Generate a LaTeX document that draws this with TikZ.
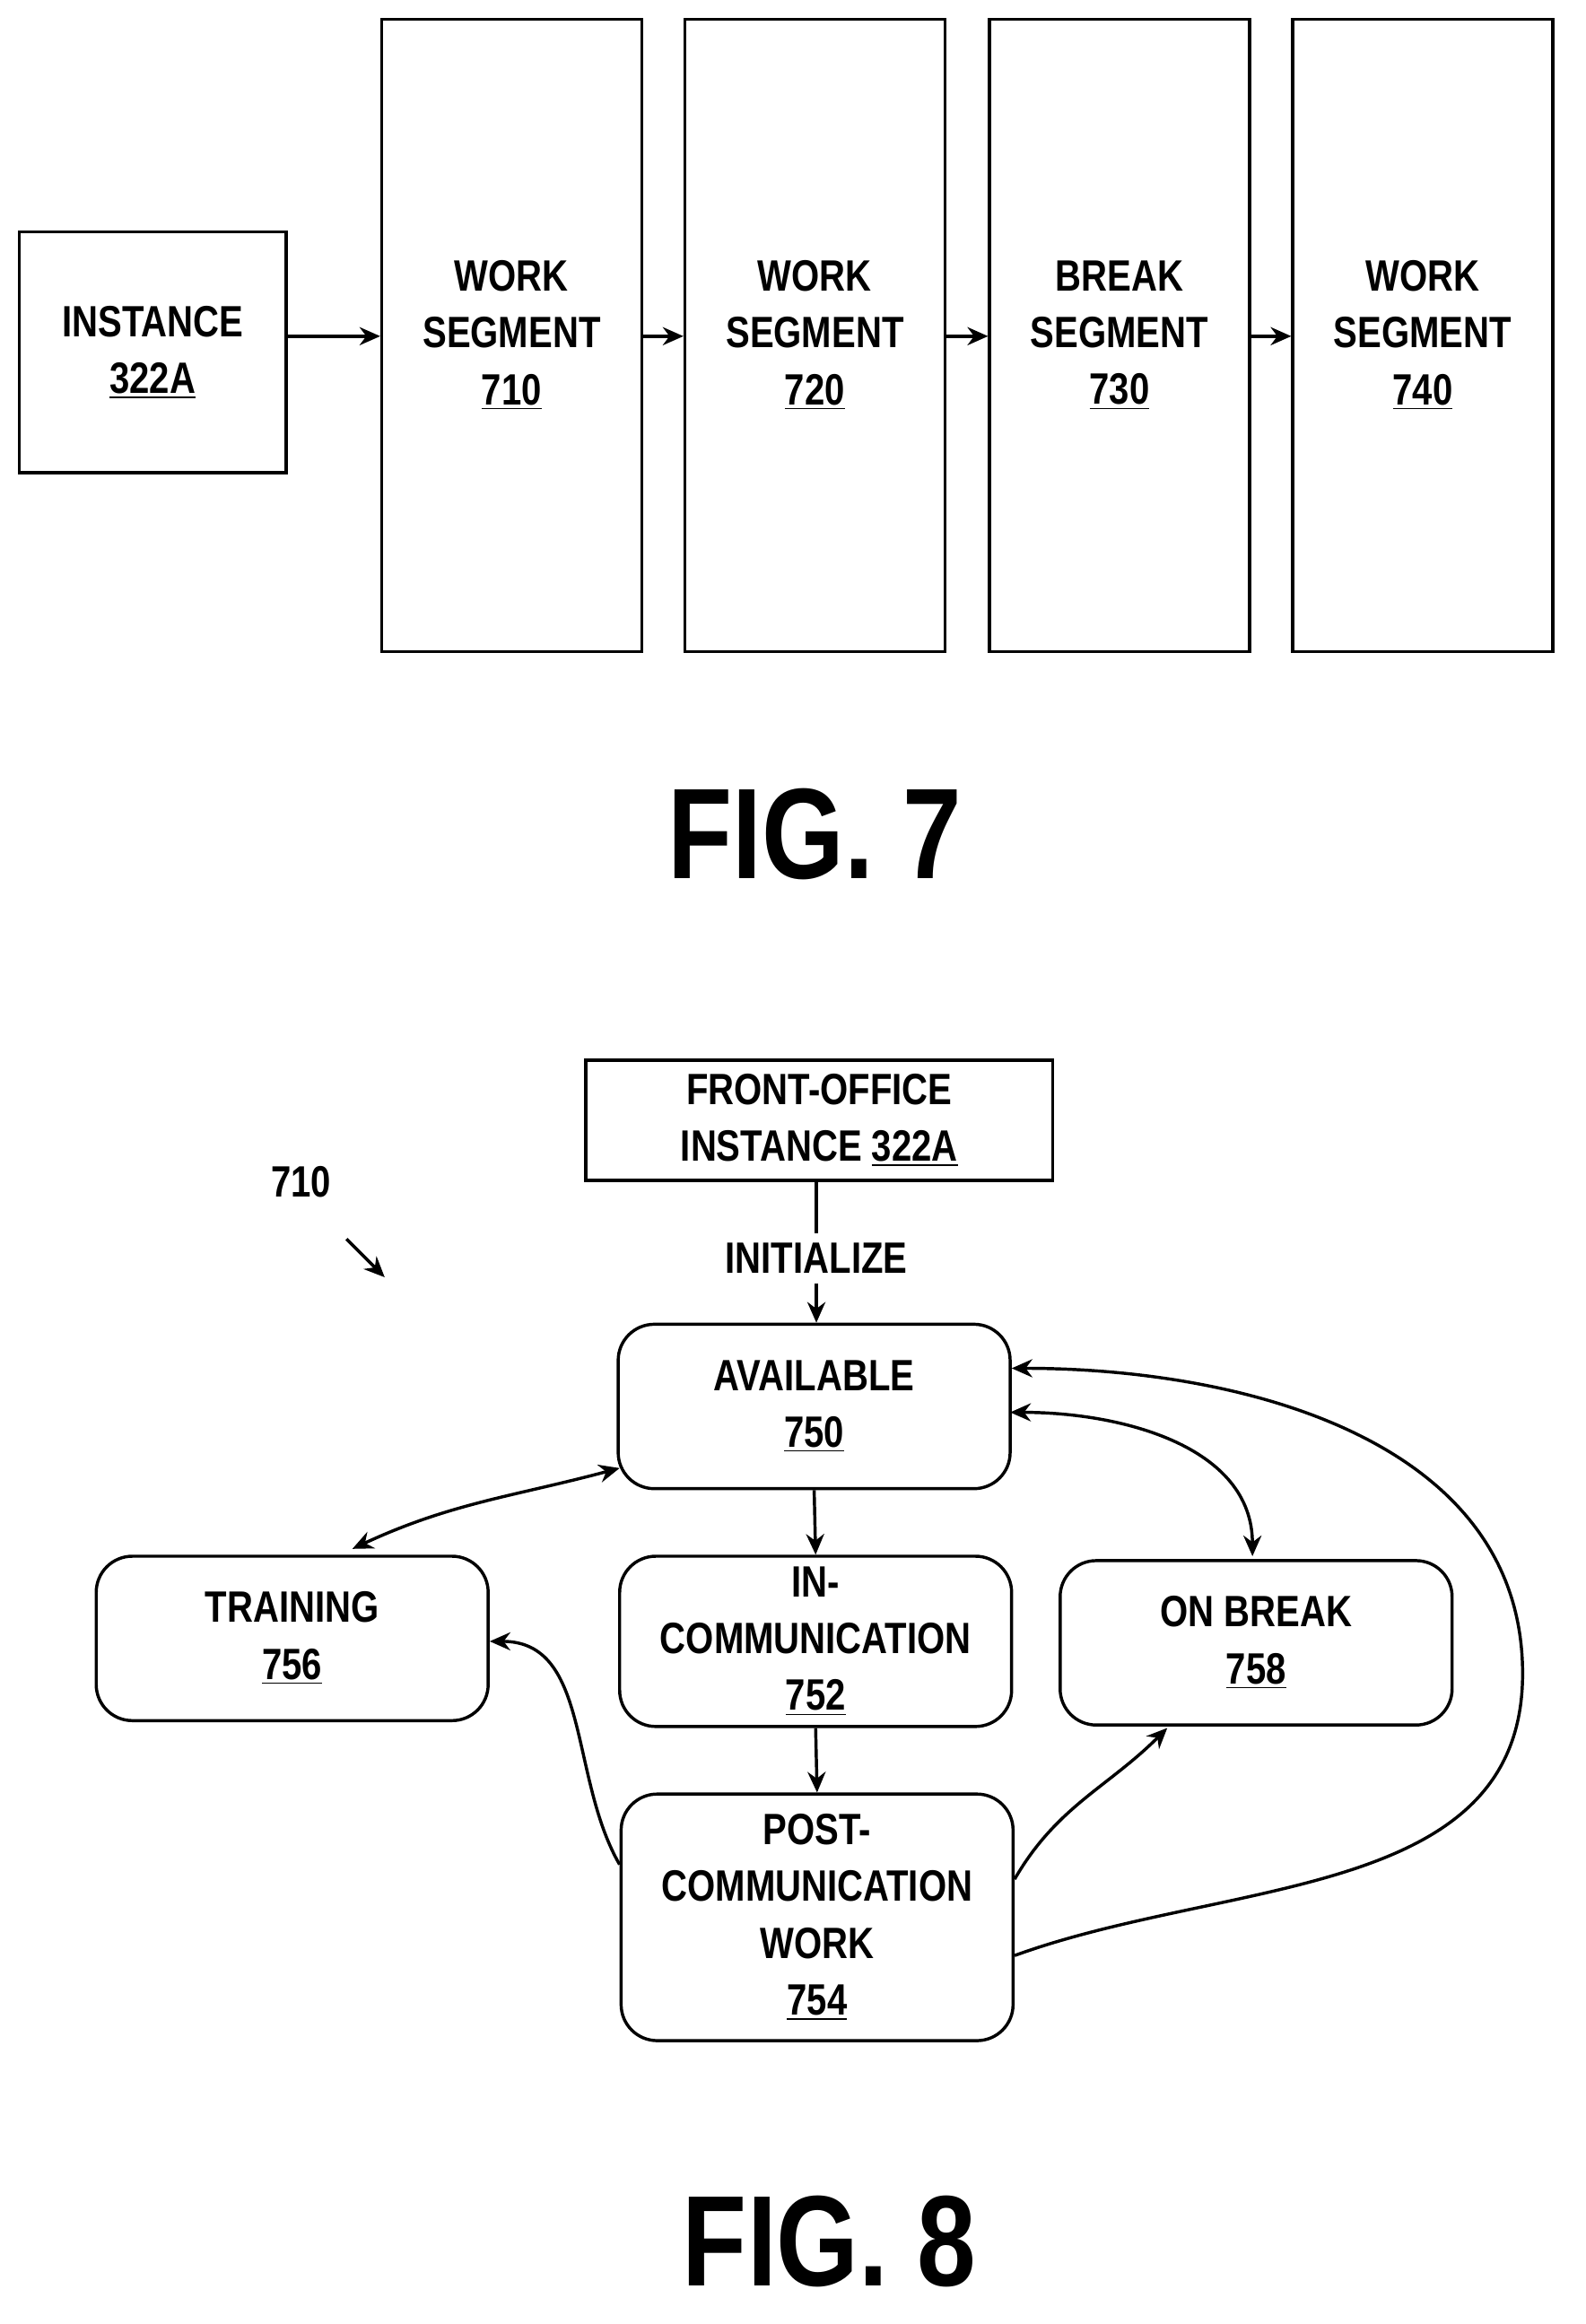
\documentclass[tikz,border=0pt]{standalone}
\usepackage{fontspec}
\setmainfont{Liberation Sans}[FakeStretch=0.82]
\usetikzlibrary{arrows.meta}
\begin{document}
\begin{tikzpicture}[x=0.02cm,y=-0.02cm,
        box/.style={rectangle, draw, line width=1.2pt, align=center, font=\bfseries\fontsize{17}{22}\selectfont},
        state/.style={box, rounded corners=14pt, minimum width=5.34cm, minimum height=2.24cm},
        seg/.style={box, minimum width=3.54cm, minimum height=8.62cm},
        arrow/.style={-{Stealth[length=8pt,width=7pt]}, line width=1.2pt},
        dblarrow/.style={{Stealth[length=8pt,width=7pt]}-{Stealth[length=8pt,width=7pt]}, line width=1.2pt},
        figlabel/.style={font=\bfseries\fontsize{50}{60}\selectfont}
    ]
        \useasboundingbox (0,0) rectangle (1080,1583);
        % FIG. 7
        \node[box, minimum width=3.64cm, minimum height=3.28cm] (inst) at (104,240) {INSTANCE\\\underline{322A}};
        \node[seg] (ws710) at (348.5,228.5) {WORK\\SEGMENT\\\underline{710}};
        \node[seg] (ws720) at (555,228.5) {WORK\\SEGMENT\\\underline{720}};
        \node[seg] (bs730) at (762.5,228.5) {BREAK\\SEGMENT\\\underline{730}};
        \node[seg] (ws740) at (969,228.5) {WORK\\SEGMENT\\\underline{740}};
        \node[figlabel] (fig7) at (555,568) {FIG. 7};

        \draw[arrow] (inst.east |- 0,229) -- (ws710.west |- 0,229);
        \draw[arrow] (ws710.east |- 0,229) -- (ws720.west |- 0,229);
        \draw[arrow] (ws720.east |- 0,229) -- (bs730.west |- 0,229);
        \draw[arrow] (bs730.east |- 0,229) -- (ws740.west |- 0,229);

        % FIG. 8
        \node[box, minimum width=6.36cm, minimum height=1.64cm] (front) at (558,763) {FRONT-OFFICE\\INSTANCE \underline{322A}};
        \node[box, draw=none] (init) at (556,857) {INITIALIZE};
        \node[state] (avail) at (554.5,958) {AVAILABLE\\\underline{750}};
        \node[state] (train) at (199,1116) {TRAINING\\\underline{756}};
        \node[state, minimum height=2.32cm] (incomm) at (555.5,1118) {IN-\\COMMUNICATION\\\underline{752}};
        \node[state] (onbreak) at (855.5,1119) {ON BREAK\\\underline{758}};
        \node[state, minimum height=3.36cm] (post) at (556.5,1306) {POST-\\COMMUNICATION\\WORK\\\underline{754}};
        \node[box, draw=none] (ref) at (205,805) {710};
        \node[figlabel] (fig8) at (565,1527) {FIG. 8};

        \draw[line width=1.2pt] (front.south -| init) -- (init.north);
        \draw[arrow] (init.south) -- (avail.north -| init);
        \draw[arrow] (236,844) -- (262,870);
        \draw[arrow] (avail.south) -- (incomm.north);
        \draw[arrow] (incomm.south) -- (post.north);
        \draw[dblarrow] (240,1055) to[out=25,in=195] (422,1000);
        \draw[dblarrow] (688,962) to[out=0,in=90] (853,1060);
        \draw[arrow] (post.west |- 0,1270) to[out=120,in=0] (train.east |- 0,1118);
        \draw[arrow] (post.east |- 0,1280) to[out=60,in=225] (795,1177);
        \draw[arrow] (post.east |- 0,1332) to[out=20,in=270] (1037,1140) to[out=90,in=0] (avail.east |- 0,932);
    \end{tikzpicture}
\end{document}
